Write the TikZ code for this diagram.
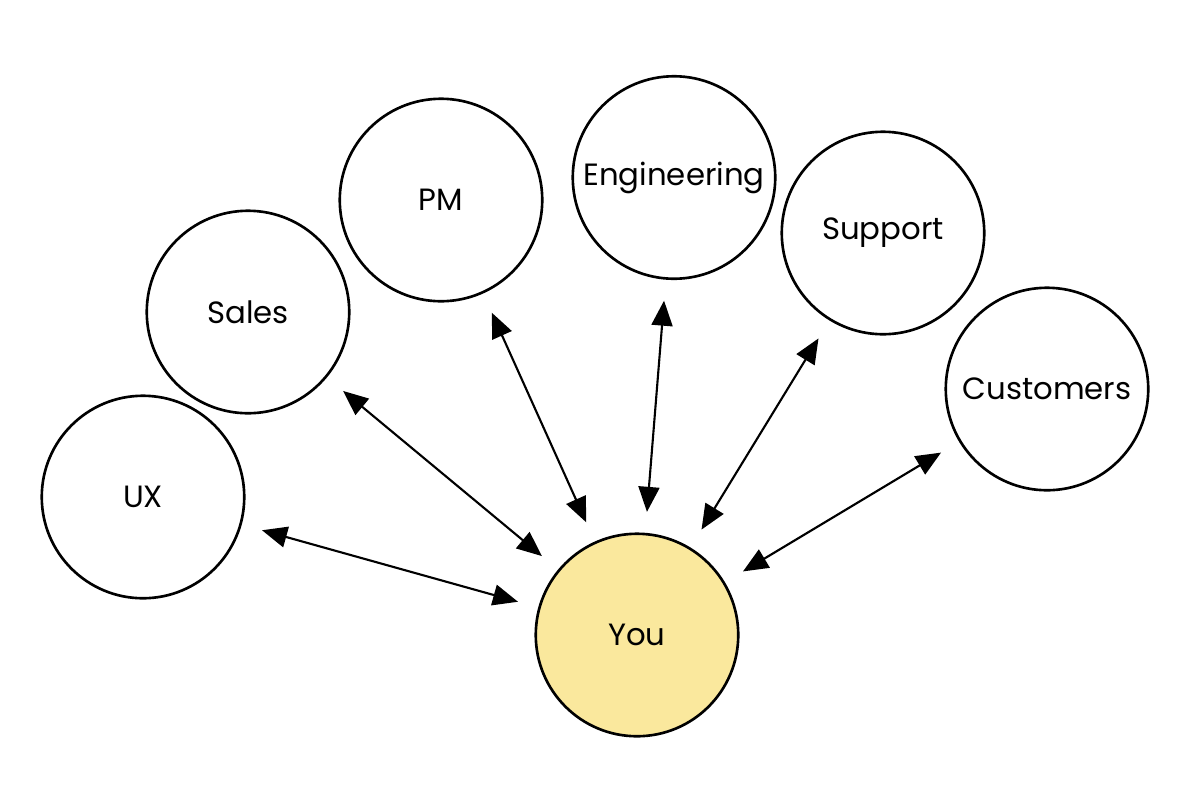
\documentclass[tikz,border=0pt]{standalone}
\usepackage{fontspec}
\setmainfont{Poppins}
\usetikzlibrary{arrows.meta,positioning}

\definecolor{youyellow}{RGB}{250,232,157}

\begin{document}
\begin{tikzpicture}
    [team/.style={circle,draw=black,line width=1.5pt,fill=white,
    inner sep=0pt,minimum size=4.05cm,font=\fontsize{17.5}{20}\selectfont},
    self/.style={team,fill=youyellow},
    link/.style={{Triangle[length=0.5cm,width=0.42cm]}-{Triangle[length=0.5cm,width=0.42cm]},
    line width=1.2pt,shorten <=0.42cm,shorten >=0.42cm}]
    \useasboundingbox (0,0) rectangle (24,-15.84);
    \node (ux) [team] at (2.86,-9.94) {UX};
    \node (sales) [team] at (4.96,-6.24) {Sales};
    \node (pm) [team] at (8.82,-4.00) {PM};
    \node (engineering) [team] at (13.48,-3.55) {Engineering};
    \node (support) [team] at (17.66,-4.66) {Support};
    \node (customers) [team] at (20.94,-7.78) {Customers};
    \node (you) [self] at (12.74,-12.70) {You};
    \draw [link] (ux) -- (you);
    \draw [link] (sales) -- (you);
    \draw [link] (pm) -- (you);
    \draw [link] (engineering) -- (you);
    \draw [link] (support) -- (you);
    \draw [link] (customers) -- (you);
\end{tikzpicture}
\end{document}
